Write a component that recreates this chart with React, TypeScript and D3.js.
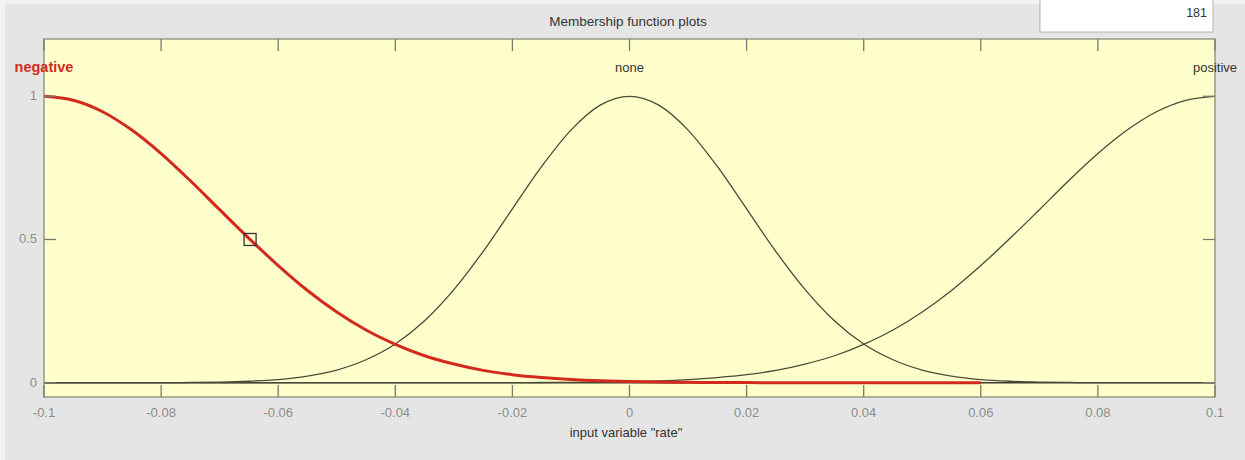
import { useEffect, useRef } from "react";
import * as d3 from "d3";

// sample positions on the "rate" axis
const xSamples = [
    -0.1, -0.095, -0.09, -0.085, -0.08, -0.075, -0.07, -0.065, -0.06, -0.055,
    -0.05, -0.045, -0.04, -0.035, -0.03, -0.025, -0.02, -0.015, -0.01, -0.005,
    0, 0.005, 0.01, 0.015, 0.02, 0.025, 0.03, 0.035, 0.04, 0.045,
    0.05, 0.055, 0.06, 0.065, 0.07, 0.075, 0.08, 0.085, 0.09, 0.095, 0.1,
];

// membership values
const negativeMF = [
    1, 0.986, 0.946, 0.882, 0.8, 0.705, 0.604, 0.504, 0.409, 0.322,
    0.247, 0.184, 0.134, 0.094, 0.065, 0.043, 0.028, 0.018, 0.011, 0.0064,
    0.0037, 0.0021, 0.0012, 0.0006, 0.0003, 0.0001, 0, 0, 0, 0,
    0, 0, 0,
];
const noneMF = [
    0, 0, 0, 0, 0, 0.0009, 0.002, 0.005, 0.011, 0.023,
    0.044, 0.08, 0.135, 0.216, 0.325, 0.458, 0.607, 0.755, 0.882, 0.969,
    1, 0.969, 0.882, 0.755, 0.607, 0.458, 0.325, 0.216, 0.135, 0.08,
    0.044, 0.023, 0.011, 0.005, 0.002, 0.0009, 0, 0, 0, 0, 0,
];
const positiveMF = [
    0, 0, 0, 0, 0, 0, 0, 0, 0, 0,
    0, 0, 0, 0, 0, 0.0001, 0.0003, 0.0006, 0.0012, 0.0021,
    0.0037, 0.0064, 0.011, 0.018, 0.028, 0.043, 0.065, 0.094, 0.134, 0.184,
    0.247, 0.322, 0.409, 0.504, 0.604, 0.705, 0.8, 0.882, 0.946, 0.986, 1,
];

const mfNames = ["negative", "none", "positive"];
const mfPeaks = [-0.1, 0, 0.1];
const xTicks = [-0.1, -0.08, -0.06, -0.04, -0.02, 0, 0.02, 0.04, 0.06, 0.08, 0.1];
const yTicks = [0, 0.5, 1];
const selectedPoint = { x: -0.0648, y: 0.5 };
const pointCount = "181";

function MFPlot() {
    const svgRef = useRef<SVGSVGElement>(null);

    useEffect(() => {
        const svgEl = svgRef.current;
        if (!svgEl) return;

        const width = 1245;
        const height = 460;
        const ml = 44;
        const mr = 30;
        const mt = 39;
        const mb = 63;
        const innerWidth = width - ml - mr;
        const innerHeight = height - mt - mb;
        const font = "'Liberation Sans', Arial, sans-serif";
        const tickLen = 12;

        d3.select(svgEl).selectAll("*").remove();
        const svg = d3.select(svgEl)
            .attr("width", width)
            .attr("height", height)
            .style("position", "absolute")
            .style("left", "0px")
            .style("top", "0px");

        // window background
        svg.append("rect").attr("width", width).attr("height", height).attr("fill", "#f3f3f3");
        svg.append("rect").attr("x", 5).attr("y", 4).attr("width", width - 5).attr("height", height - 4).attr("fill", "#e5e5e5");

        // points box at top right
        svg.append("rect")
            .attr("x", 1040).attr("y", -1).attr("width", 173).attr("height", 33)
            .attr("fill", "#ffffff").attr("stroke", "#b4b4b4");
        svg.append("text")
            .attr("x", 1207).attr("y", 17)
            .attr("text-anchor", "end")
            .attr("font-family", font).attr("font-size", "12.5px")
            .attr("fill", "#333")
            .text(pointCount);

        svg.append("text")
            .attr("x", 628).attr("y", 26)
            .attr("text-anchor", "middle")
            .attr("font-family", font).attr("font-size", "13.5px")
            .attr("fill", "#333")
            .text("Membership function plots");

        const xScale = d3.scaleLinear().domain([-0.1, 0.1]).range([0, innerWidth]);
        const yScale = d3.scaleLinear().domain([-0.05, 1.2]).range([innerHeight, 0]);

        const g = svg.append("g").attr("transform", `translate(${ml},${mt})`);

        g.append("rect")
            .attr("width", innerWidth).attr("height", innerHeight)
            .attr("fill", "#ffffcc");

        // baseline where all curves sit at zero
        g.append("line")
            .attr("x1", 0).attr("x2", innerWidth)
            .attr("y1", yScale(0)).attr("y2", yScale(0))
            .attr("stroke", "#3a3a2a").attr("stroke-width", 1.6);

        const line = d3.line<[number, number]>()
            .x(d => xScale(d[0]))
            .y(d => yScale(d[1]))
            .curve(d3.curveMonotoneX);

        const toPts = (vals: number[]) => vals.map((v, i) => [xSamples[i], v] as [number, number]);

        [noneMF, positiveMF].forEach(vals => {
            g.append("path")
                .datum(toPts(vals))
                .attr("fill", "none")
                .attr("stroke", "#4a4a3a")
                .attr("stroke-width", 1.3)
                .attr("d", line);
        });

        g.append("path")
            .datum(toPts(negativeMF))
            .attr("fill", "none")
            .attr("stroke", "#d42a1e")
            .attr("stroke-width", 3)
            .attr("d", line);

        g.append("rect")
            .attr("x", xScale(selectedPoint.x) - 6)
            .attr("y", yScale(selectedPoint.y) - 6)
            .attr("width", 12).attr("height", 12)
            .attr("fill", "none")
            .attr("stroke", "#333")
            .attr("stroke-width", 1.3);

        // axes frame and ticks
        g.append("rect")
            .attr("width", innerWidth).attr("height", innerHeight)
            .attr("fill", "none").attr("stroke", "#8a8a7a").attr("stroke-width", 1.3);

        const ticks = g.append("g").attr("stroke", "#7a7a6a").attr("stroke-width", 1.3);
        xTicks.forEach(t => {
            ticks.append("line").attr("x1", xScale(t)).attr("x2", xScale(t)).attr("y1", innerHeight).attr("y2", innerHeight - tickLen);
            ticks.append("line").attr("x1", xScale(t)).attr("x2", xScale(t)).attr("y1", 0).attr("y2", tickLen);
        });
        yTicks.forEach(t => {
            ticks.append("line").attr("x1", 0).attr("x2", tickLen).attr("y1", yScale(t)).attr("y2", yScale(t));
            ticks.append("line").attr("x1", innerWidth).attr("x2", innerWidth - tickLen).attr("y1", yScale(t)).attr("y2", yScale(t));
        });

        g.append("g")
            .selectAll("text")
            .data(xTicks)
            .join("text")
            .attr("x", d => xScale(d))
            .attr("y", innerHeight + 20)
            .attr("text-anchor", "middle")
            .attr("font-family", font).attr("font-size", "13px")
            .attr("fill", "#8c8c8c")
            .text(d => String(d));

        g.append("g")
            .selectAll("text")
            .data(yTicks)
            .join("text")
            .attr("x", -7)
            .attr("y", d => yScale(d) + 4)
            .attr("text-anchor", "end")
            .attr("font-family", font).attr("font-size", "13px")
            .attr("fill", "#8c8c8c")
            .text(d => String(d));

        g.append("text")
            .attr("x", 582)
            .attr("y", innerHeight + 40)
            .attr("text-anchor", "middle")
            .attr("font-family", font).attr("font-size", "13px")
            .attr("fill", "#333")
            .text('input variable "rate"');

        // MF labels above peaks
        mfNames.forEach((name, i) => {
            g.append("text")
                .attr("x", xScale(mfPeaks[i]))
                .attr("y", 33)
                .attr("text-anchor", "middle")
                .attr("font-family", font)
                .attr("font-size", i === 0 ? "14.5px" : "13px")
                .attr("font-weight", i === 0 ? "bold" : "normal")
                .attr("fill", i === 0 ? "#d42a1e" : "#333")
                .text(name);
        });
    }, []);

    return <svg ref={svgRef} />;
}

export default function App() {
    return <MFPlot />;
}
